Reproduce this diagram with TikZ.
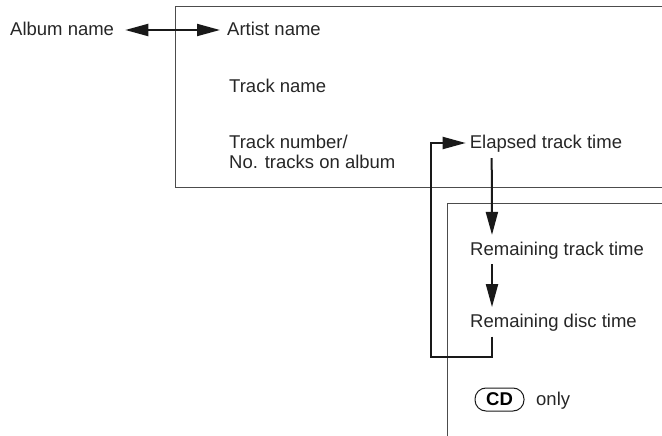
\documentclass[tikz,border=0pt]{standalone}
\usepackage{fontspec}
\setmainfont{Liberation Sans}
\usetikzlibrary{arrows.meta}
\begin{document}
\begin{tikzpicture}[x=1pt,y=-1pt,
  lbl/.style={anchor=base west,inner sep=0pt,text=black!85,font=\fontsize{18.5}{22}\selectfont},
  frame/.style={draw=black!70,line width=1pt},
  arr/.style={draw=black!90,line width=2pt,-{Triangle[length=23pt,width=12pt]}},
  darr/.style={draw=black!90,line width=2pt,{Triangle[length=23pt,width=12pt]}-{Triangle[length=23pt,width=12pt]}},
  badge/.style={draw=black!90,line width=1pt,rounded corners=11pt,inner sep=0pt,minimum width=49pt,minimum height=23pt,font=\fontsize{18.5}{22}\selectfont\bfseries}]
\useasboundingbox (0,0) rectangle (662,436);
% frames
\draw[frame] (662,7) -| (175,187) -- (662,187);
\draw[frame] (662,203) -| (447,436);
% texts
\node[lbl] (album) at (10,36) {Album name};
\node[lbl] (artist) at (227,36) {Artist name};
\node[lbl] (track) at (229,93) {Track name};
\node[lbl] (tnum) at (229,148) {Track number/};
\node[lbl] (ntr) at (229,168) {No. tracks on album};
\node[lbl] (elapsed) at (469.7,149) {Elapsed track time};
\node[lbl] (rtt) at (470,255) {Remaining track time};
\node[lbl] (rdt) at (470,327.7) {Remaining disc time};
\node[badge] (cd) at (499.5,399.5) {CD};
\node[lbl] (only) at (536,405) {only};
% connectors
\draw[darr] ([xshift=11pt,yshift=6pt]album.base east) -- ([xshift=-7pt,yshift=6pt]artist.base west);
\draw[arr] ([xshift=22pt,yshift=-5pt]elapsed.south west) -- ([xshift=22pt,yshift=6.5pt]rtt.north west);
\draw[arr] ([xshift=22pt,yshift=-5pt]rtt.south west) -- ([xshift=22pt,yshift=7pt]rdt.north west);
\draw[arr,line join=miter] ([xshift=22pt,yshift=-5pt]rdt.south west) -- ++(0,-20pt) -| ([xshift=-38.7pt,yshift=6pt]elapsed.base west) -- ([xshift=-4pt,yshift=6pt]elapsed.base west);
\end{tikzpicture}
\end{document}
